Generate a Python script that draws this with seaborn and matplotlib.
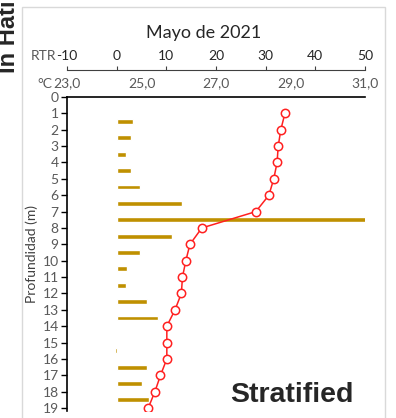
import numpy as np
import pandas as pd
import matplotlib
matplotlib.use("Agg")
import matplotlib.pyplot as plt
import seaborn as sns
from matplotlib.patches import Rectangle

# datos
depth_temp = [1, 2, 3, 4, 5, 6, 7, 8, 9, 10, 11, 12, 13, 14, 15, 16, 17, 18, 19]
temperature = [28.85, 28.74, 28.67, 28.64, 28.55, 28.42, 28.07, 26.62, 26.30, 26.19,
               26.10, 26.07, 25.90, 25.68, 25.68, 25.68, 25.51, 25.36, 25.18]
depth_rtr = [1.5, 2.5, 3.5, 4.5, 5.5, 6.5, 7.5, 8.5, 9.5, 10.5, 11.5, 12.5, 13.5,
             14.5, 15.5, 16.5, 17.5, 18.5]
rtr = [3.2, 2.8, 1.8, 2.8, 4.6, 13.1, 52.0, 11.2, 4.6, 2.1, 1.8, 6.1, 8.3,
       0.0, -0.4, 6.1, 5.2, 6.5]
temp_ticks = [23, 25, 27, 29, 31]
temp_labels = ["23,0", "25,0", "27,0", "29,0", "31,0"]
rtr_ticks = [-10, 0, 10, 20, 30, 40, 50]

sns.set_style("white")
plt.rcParams['font.family'] = ['Lato', 'DejaVu Sans']
gray = '#595959'
fs = 10

W, H = 396, 418
fig = plt.figure(figsize=(W / 100, H / 100), dpi=100)

# marco del area del grafico
fig.patches.append(Rectangle((22 / W, -0.1), (385 - 22) / W, 1.1 - 7 / H,
                             transform=fig.transFigure, fill=False,
                             edgecolor='#d9d9d9', linewidth=1.0))

rect = [67 / W, 1 - 411.3 / H, (365 - 67) / W, (411.3 - 97) / H]

# RTR (ejes de fondo, barras)
ax2 = fig.add_axes(rect)
df_r = pd.DataFrame({'rtr': rtr, 'depth': depth_rtr})
sns.barplot(data=df_r, x='rtr', y='depth', orient='y', native_scale=True,
            width=0.3, color='#bf9000', saturation=1, ax=ax2)
ax2.set_xlim(-10, 50)
ax2.set_ylim(19.2, 0)
ax2.xaxis.tick_top()
ax2.set_xticks(rtr_ticks)
ax2.set_xticklabels([str(t) for t in rtr_ticks], fontsize=fs, color=gray)
ax2.spines['top'].set_position(('outward', 27 * 0.72))
ax2.spines['top'].set_color('#404040')
ax2.tick_params(axis='x', top=True, bottom=False, length=3, direction='out',
                color='#404040', pad=3)
ax2.tick_params(axis='y', left=False, labelleft=False)
ax2.set_xlabel('')
ax2.set_ylabel('')
for s in ['bottom', 'right', 'left']:
    ax2.spines[s].set_visible(False)

# temperatura (eje principal, encima)
ax = fig.add_axes(rect)
ax.patch.set_alpha(0)
df_t = pd.DataFrame({'temp': temperature, 'depth': depth_temp})
sns.lineplot(data=df_t, x='temp', y='depth', sort=False, estimator=None, ax=ax,
             color='#ff2020', linewidth=1.1, marker='o', markersize=6,
             markerfacecolor='white', markeredgecolor='#ff2020',
             markeredgewidth=1.1, zorder=5)
ax.set_xlim(23, 31)
ax.set_ylim(19.2, 0)
ax.set_yticks(range(0, 20))
ax.set_yticklabels([str(i) for i in range(0, 20)], fontsize=fs, color=gray)
ax.xaxis.tick_top()
ax.set_xticks(temp_ticks)
ax.set_xticklabels(temp_labels, fontsize=fs, color=gray)
ax.tick_params(axis='x', top=True, bottom=False, length=0, pad=6)
ax.tick_params(axis='y', left=True, length=4, width=1, direction='out',
               color='black', pad=2)
ax.set_xlabel('')
ax.set_ylabel('Profundidad (m)', fontsize=10, color='#404040', labelpad=3)
for s in ['bottom', 'right']:
    ax.spines[s].set_visible(False)
for s in ['top', 'left']:
    ax.spines[s].set_color('black')
    ax.spines[s].set_linewidth(1.2)

# textos
fig.text(56 / W, 1 - 56.5 / H, 'RTR', fontsize=fs, color=gray, ha='right', va='center')
fig.text(52 / W, 1 - 84 / H, '°C', fontsize=fs, color=gray, ha='right', va='center')
fig.text(204 / W, 1 - 33 / H, 'Mayo de 2021', fontsize=13, color='#262626',
         ha='center', va='center')
fig.text(292 / W, 1 - 395 / H, 'Stratified', fontsize=20.5, fontweight='bold',
         family='Liberation Sans', ha='center', va='center')
fig.text(9 / W, 1 - 73 / H, 'In Hatillo', fontsize=17, fontweight='bold',
         family='Liberation Sans', rotation=90, ha='center', va='bottom')

fig.savefig('out.png', dpi=100)
